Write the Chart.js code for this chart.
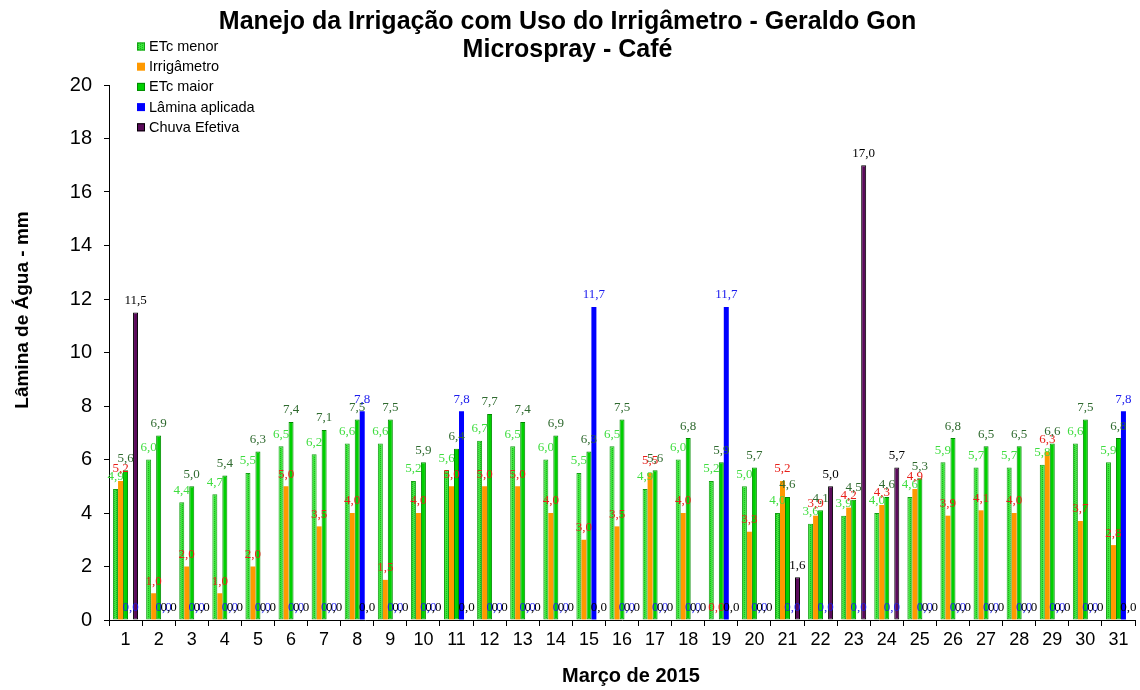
<!DOCTYPE html>
<html>
<head>
<meta charset="utf-8">
<title>Manejo da Irrigação - Microspray - Café</title>
<script src="https://cdn.jsdelivr.net/npm/chart.js@4.4.1/dist/chart.umd.min.js"></script>
<style>
  html, body { margin: 0; padding: 0; background: #ffffff; }
  #wrap { width: 1140px; height: 690px; }
</style>
</head>
<body>
<div id="wrap"><canvas id="chart" width="1140" height="690"></canvas></div>
<script>
// ---- Data ----
const titleLines = ['Manejo da Irrigação com Uso do Irrigâmetro - Geraldo Gon', 'Microspray - Café'];
const xTitle = 'Março de 2015';
const yTitle = 'Lâmina de Água - mm';
const days = ['1','2','3','4','5','6','7','8','9','10','11','12','13','14','15','16','17','18','19','20','21','22','23','24','25','26','27','28','29','30','31'];
const seriesNames = ['ETc menor', 'Irrigâmetro', 'ETc maior', 'Lâmina aplicada', 'Chuva Efetiva'];
const etcMenor    = [4.9,6.0,4.4,4.7,5.5,6.5,6.2,6.6,6.6,5.2,5.6,6.7,6.5,6.0,5.5,6.5,4.9,6.0,5.2,5.0,4.0,3.6,3.9,4.0,4.6,5.9,5.7,5.7,5.8,6.6,5.9];
const irrigametro = [5.2,1.0,2.0,1.0,2.0,5.0,3.5,4.0,1.5,4.0,5.0,5.0,5.0,4.0,3.0,3.5,5.5,4.0,0.0,3.3,5.2,3.9,4.2,4.3,4.9,3.9,4.1,4.0,6.3,3.7,2.8];
const etcMaior    = [5.6,6.9,5.0,5.4,6.3,7.4,7.1,7.5,7.5,5.9,6.4,7.7,7.4,6.9,6.3,7.5,5.6,6.8,5.9,5.7,4.6,4.1,4.5,4.6,5.3,6.8,6.5,6.5,6.6,7.5,6.8];
const laminaAplicada = [0,0,0,0,0,0,0,7.8,0,0,7.8,0,0,0,11.7,0,0,0,11.7,0,0,0,0,0,0,0,0,0,0,0,7.8];
const chuvaEfetiva   = [11.5,0,0,0,0,0,0,0,0,0,0,0,0,0,0,0,0,0,0,0,1.6,5.0,17.0,5.7,0,0,0,0,0,0,0];

// ---- Styles ----
function makeHatch() {
  const c = document.createElement('canvas');
  c.width = 4; c.height = 4;
  const g = c.getContext('2d');
  g.fillStyle = '#3ae83a'; g.fillRect(0, 0, 4, 4);
  g.fillStyle = '#1fb01f';
  g.fillRect(0, 0, 1, 1); g.fillRect(2, 1, 1, 1); g.fillRect(0, 2, 1, 1); g.fillRect(2, 3, 1, 1);
  return g.createPattern(c, 'repeat');
}
const hatch = makeHatch();
const fills   = [hatch, '#ff9900', '#00d000', '#0000ff', '#5a0a5a'];
const borders = ['#14a014', '#ff9900', '#008a00', '#0000ff', '#000000'];
const borderW = [1, 0, 1, 0, 1];
const labelColors = ['#3fdd3f', '#e8201a', '#2f6a2f', '#1a1aee', '#000000'];
const seriesData = [etcMenor, irrigametro, etcMaior, laminaAplicada, chuvaEfetiva];
const SANS = '"Liberation Sans", Arial, sans-serif';

const fmt = v => v.toFixed(1).replace('.', ',');

const valueLabels = {
  id: 'valueLabels',
  afterDatasetsDraw(chart) {
    const ctx = chart.ctx;
    ctx.save();
    ctx.font = '13px "Liberation Serif", "DejaVu Serif", serif';
    ctx.textAlign = 'center';
    ctx.textBaseline = 'middle';
    chart.data.datasets.forEach((ds, i) => {
      const meta = chart.getDatasetMeta(i);
      meta.data.forEach((bar, j) => {
        ctx.fillStyle = labelColors[i];
        ctx.fillText(fmt(ds.data[j]), bar.x, bar.y - 12);
      });
    });
    ctx.restore();
  }
};

const customLegend = {
  id: 'customLegend',
  afterDraw(chart) {
    const ctx = chart.ctx;
    ctx.save();
    ctx.font = '14.5px ' + SANS;
    ctx.textBaseline = 'middle';
    ctx.textAlign = 'left';
    const x0 = 137, y0 = 46.5, dy = 20.2;
    chart.data.datasets.forEach((ds, i) => {
      const y = y0 + i * dy;
      ctx.fillStyle = fills[i];
      ctx.fillRect(x0, y - 4, 8, 8);
      if (borderW[i]) {
        ctx.strokeStyle = borders[i];
        ctx.lineWidth = 1;
        ctx.strokeRect(x0 + 0.5, y - 3.5, 7, 7);
      }
      ctx.fillStyle = '#000000';
      ctx.fillText(ds.label, x0 + 12, y + 0.5);
    });
    ctx.restore();
  }
};

const axisTitles = {
  id: 'axisTitles',
  afterDraw(chart) {
    const ctx = chart.ctx;
    ctx.save();
    ctx.fillStyle = '#000000';
    ctx.textAlign = 'center';
    ctx.textBaseline = 'middle';
    ctx.font = 'bold 19px ' + SANS;
    ctx.translate(23, 310);
    ctx.rotate(-Math.PI / 2);
    ctx.fillText(yTitle, 0, 0);
    ctx.restore();
    ctx.save();
    ctx.fillStyle = '#000000';
    ctx.textAlign = 'center';
    ctx.textBaseline = 'middle';
    ctx.font = 'bold 20px ' + SANS;
    ctx.fillText(xTitle, 631, 676);
    ctx.restore();
  }
};

const datasets = seriesNames.map((name, i) => ({
  label: name,
  data: seriesData[i],
  backgroundColor: fills[i],
  borderColor: borders[i],
  borderWidth: borderW[i],
  borderSkipped: false
}));

new Chart(document.getElementById('chart'), {
  type: 'bar',
  data: { labels: days, datasets: datasets },
  plugins: [valueLabels, customLegend, axisTitles],
  options: {
    responsive: false,
    animation: false,
    devicePixelRatio: 1,
    layout: { padding: { left: 0, right: 5, top: 0, bottom: 0 } },
    datasets: { bar: { categoryPercentage: 0.755, barPercentage: 1.0 } },
    plugins: {
      legend: { display: false },
      tooltip: { enabled: false },
      title: {
        display: true,
        text: titleLines,
        color: '#000000',
        font: { family: SANS, size: 25, weight: 'bold', lineHeight: 1.12 },
        padding: { top: 8, bottom: 21 }
      }
    },
    scales: {
      x: {
        grid: { display: true, offset: true, drawOnChartArea: false, drawTicks: true, tickLength: 6, color: '#000000' },
        border: { display: true, color: '#000000', width: 1 },
        ticks: { color: '#000000', padding: 3, font: { family: SANS, size: 18 }, maxRotation: 0, autoSkip: false },
        title: { display: false, text: xTitle },
        afterFit(scale) { scale.height = 70; }
      },
      y: {
        min: 0, max: 20,
        grid: { display: true, drawOnChartArea: false, drawTicks: true, tickLength: 5, color: '#000000' },
        border: { display: true, color: '#000000', width: 1 },
        ticks: {
          stepSize: 1, color: '#000000', padding: 12,
          font: { family: SANS, size: 20 },
          callback: v => (v % 2 === 0 ? String(v) : '')
        },
        title: { display: false, text: yTitle },
        afterFit(scale) { scale.width = 109; }
      }
    }
  }
});
</script>
</body>
</html>
